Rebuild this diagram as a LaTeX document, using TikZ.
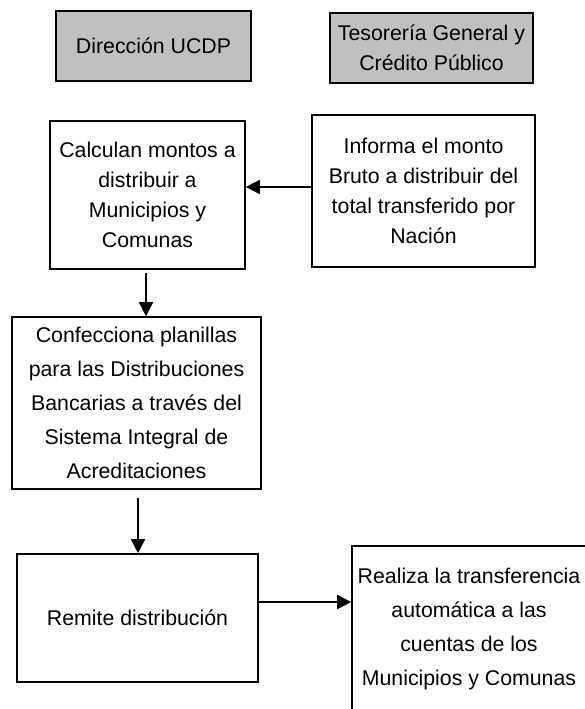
\documentclass[tikz,border=0pt]{standalone}
\usepackage{fontspec}
\setmainfont{Liberation Sans}
\usetikzlibrary{arrows.meta}
\definecolor{boxgray}{HTML}{C0C0C0}
\tikzset{
  box/.style={draw=black, line width=1.6pt, align=center, inner sep=0pt,
    font=\fontsize{21.3}{30}\selectfont},
  hdr/.style={box, fill=boxgray},
  wide/.style={font=\fontsize{21.3}{34}\selectfont},
  plain/.style={align=center, inner sep=0pt, font=\fontsize{21.3}{34}\selectfont},
  arr/.style={line width=1.6pt, -{Triangle[length=14pt,width=14pt]}}
}
\begin{document}
\begin{tikzpicture}[x=1pt,y=-1pt]
\useasboundingbox[fill=white] (0,0) rectangle (584,709);
\node[hdr, minimum width=195pt, minimum height=70pt] (b1) at (153.5,46) {Dirección UCDP};
\node[hdr, minimum width=203pt, minimum height=70pt] (b2) at (431.5,48) {Tesorería General y\\Crédito Público};
\node[box, minimum width=195pt, minimum height=148pt] (b3) at (147.5,195) {Calculan montos a\\distribuir a\\Municipios y\\Comunas};
\node[box, minimum width=223pt, minimum height=152pt] (b4) at (423.5,191) {Informa el monto\\Bruto a distribuir del\\total transferido por\\Nación};
\node[box, wide, minimum width=249pt, minimum height=172pt] (b5) at (136.5,403) {Confecciona planillas\\para las Distribuciones\\Bancarias a través del\\Sistema Integral de\\Acreditaciones};
\node[box, minimum width=241pt, minimum height=128pt] (b6) at (137.5,618) {Remite distribución};
\node[box, minimum width=256pt, minimum height=180pt] (b7) at (480,636) {};
\node[plain] (t7) at (469,629) {Realiza la transferencia\\automática a las\\cuentas de los\\Municipios y Comunas};
\coordinate (ya) at (0,187);
\coordinate (xb) at (146,0);
\coordinate (xc) at (138,0);
\coordinate (yd) at (0,602);
\draw[arr] (b4.west |- ya) -- (b3.east |- ya);
\draw[arr, shorten <=3pt] (b3.south -| xb) -- (b5.north -| xb);
\draw[arr, shorten <=8pt] (b5.south -| xc) -- (b6.north -| xc);
\draw[arr] (b6.east |- yd) -- (b7.west |- yd);
\end{tikzpicture}
\end{document}
